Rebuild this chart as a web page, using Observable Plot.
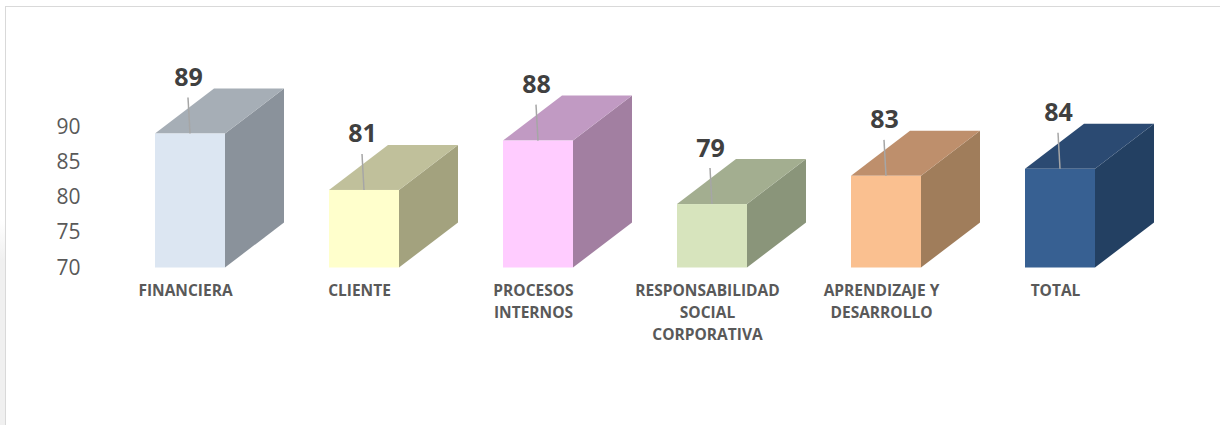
<!DOCTYPE html>
<html>
<head>
<meta charset="utf-8">
<script src="https://cdn.jsdelivr.net/npm/d3@7"></script>
<script src="https://cdn.jsdelivr.net/npm/@observablehq/plot@0.6"></script>
<style>
html,body{margin:0;padding:0;background:#fff;overflow:hidden;}
#chart{position:relative;width:1220px;height:425px;}
#strip{position:absolute;left:0;top:0;width:5px;height:425px;background:linear-gradient(#fff 0px,#fff 220px,#F0F0F0 260px,#F0F0F0 425px);}
#frame{position:absolute;left:5px;top:6px;width:1260px;height:460px;border:1.5px solid #D9D9D9;box-sizing:border-box;pointer-events:none;}
#chart svg{position:absolute;left:0;top:0;}
</style>
</head>
<body>
<div id="chart"><div id="strip"></div><div id="frame"></div></div>
<script>
// ---- data ----
const categories = ["FINANCIERA", "CLIENTE", "PROCESOS INTERNOS", "RESPONSABILIDAD SOCIAL CORPORATIVA", "APRENDIZAJE Y DESARROLLO", "TOTAL"];
const tickLabels = ["FINANCIERA", "CLIENTE", "PROCESOS\nINTERNOS", "RESPONSABILIDAD\nSOCIAL\nCORPORATIVA", "APRENDIZAJE Y\nDESARROLLO", "TOTAL"];
const values = [89, 81, 88, 79, 83, 84];
const yTicks = [70, 75, 80, 85, 90];
const frontColors = ["#DCE6F2", "#FFFFCC", "#FFCCFF", "#D7E4BD", "#FAC090", "#376092"];
const topColors   = ["#A6AEB6", "#C0C09B", "#C19AC3", "#A3AE90", "#BE8F6C", "#2B4A72"];
const sideColors  = ["#8A929B", "#A3A27E", "#A27FA1", "#8A957A", "#A07D5B", "#234062"];

const data = categories.map((c, i) => ({cat: c, value: values[i], front: frontColors[i], top: topColors[i], side: sideColors[i]}));

// ---- 3D depth (pixels) ----
const DX = 59, DY = 45;
const LEADER = 36, LEADER_SLANT = 2;

function prisms(rows) {
  return Plot.barY(rows, {
    x: "cat", y1: () => yTicks[0], y2: "value", fill: "front",
    render(index, scales, vals, dims, ctx, next) {
      const front = next(index, scales, vals, dims, ctx);
      const bw = scales.x.bandwidth();
      const g = d3.create("svg:g");
      for (const i of index) {
        const x0 = vals.x[i], x1 = x0 + bw;
        const yt = Math.min(vals.y1[i], vals.y2[i]);
        const yb = Math.max(vals.y1[i], vals.y2[i]);
        const d = rows[i];
        g.append("polygon")
          .attr("points", [[x1, yt], [x1 + DX, yt - DY], [x1 + DX, yb - DY], [x1, yb]].join(" "))
          .attr("fill", d.side);
        g.append("polygon")
          .attr("points", [[x0, yt], [x0 + DX, yt - DY], [x1 + DX, yt - DY], [x1, yt]].join(" "))
          .attr("fill", d.top);
      }
      g.append(() => front);
      for (const i of index) {
        const cx = vals.x[i] + bw / 2;
        const yt = Math.min(vals.y1[i], vals.y2[i]);
        g.append("line")
          .attr("x1", cx).attr("y1", yt)
          .attr("x2", cx - LEADER_SLANT).attr("y2", yt - LEADER)
          .attr("stroke", "#A6A6A6").attr("stroke-width", 1.5);
      }
      return g.node();
    }
  });
}

const chart = Plot.plot({
  width: 1220,
  height: 425,
  marginTop: 126.5,
  marginBottom: 157.5,
  marginLeft: 88,
  marginRight: 0,
  style: {fontFamily: "'Open Sans', sans-serif", color: "#595959", background: "transparent", overflow: "visible"},
  x: {type: "band", domain: categories, range: [154.3, 1096.3], paddingInner: 0.5986, paddingOuter: 0},
  y: {domain: [yTicks[0], yTicks[yTicks.length - 1]]},
  marks: [
    prisms(data),
    Plot.text(data, {x: "cat", y: "value", text: d => String(d.value), dy: -48, dx: -LEADER_SLANT, lineAnchor: "bottom",
      fontSize: 25, fontWeight: 700, fill: "#404040"}),
    Plot.axisY({ticks: yTicks, tickSize: 0, tickPadding: 8, fontSize: 21, label: null, fill: "#595959"}),
    Plot.axisX({tickSize: 0, tickPadding: 12.5, tickFormat: d => tickLabels[categories.indexOf(d)],
      fontSize: 15.5, fontWeight: 700, lineHeight: 1.42, dx: -5, label: null, fill: "#595959"})
  ]
});
document.getElementById("chart").appendChild(chart);
</script>
</body>
</html>
